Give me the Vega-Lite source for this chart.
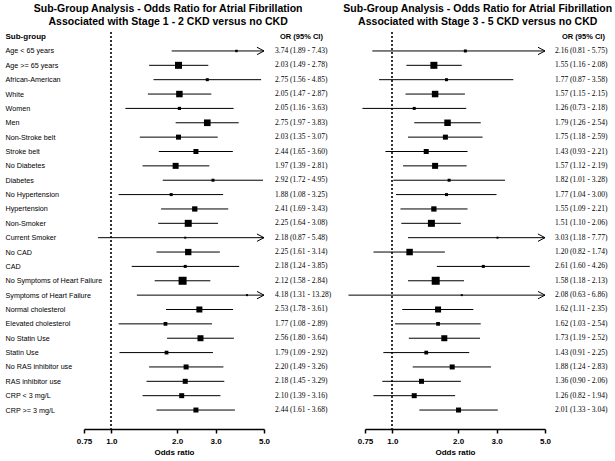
{
  "$schema": "https://vega.github.io/schema/vega-lite/v6.json",
  "padding": {"left": 5, "right": 5, "top": 4, "bottom": 3},
  "bounds": "flush",
  "spacing": 101,
  "config": {
    "font": "Liberation Sans",
    "view": {"stroke": null},
    "mark": {"color": "black"},
    "title": {"fontSize": 10.5, "fontWeight": "bold", "lineHeight": 13, "offset": 4, "anchor": "middle", "frame": "bounds", "color": "black"}
  },
  "datasets": {
    "s12": [
      {"g": "Age < 65 years", "or": 3.74, "lo": 1.89, "hi": 7.43, "w": 6, "t": "3.74 (1.89 -  7.43)"},
      {"g": "Age >= 65 years", "or": 2.03, "lo": 1.49, "hi": 2.78, "w": 49, "t": "2.03 (1.49 -  2.78)"},
      {"g": "African-American", "or": 2.75, "lo": 1.56, "hi": 4.85, "w": 9, "t": "2.75 (1.56 -  4.85)"},
      {"g": "White", "or": 2.05, "lo": 1.47, "hi": 2.87, "w": 42, "t": "2.05 (1.47 -  2.87)"},
      {"g": "Women", "or": 2.05, "lo": 1.16, "hi": 3.63, "w": 10, "t": "2.05 (1.16 -  3.63)"},
      {"g": "Men", "or": 2.75, "lo": 1.97, "hi": 3.83, "w": 44, "t": "2.75 (1.97 -  3.83)"},
      {"g": "Non-Stroke belt", "or": 2.03, "lo": 1.35, "hi": 3.07, "w": 25, "t": "2.03 (1.35 -  3.07)"},
      {"g": "Stroke belt", "or": 2.44, "lo": 1.65, "hi": 3.60, "w": 25, "t": "2.44 (1.65 -  3.60)"},
      {"g": "No Diabetes", "or": 1.97, "lo": 1.39, "hi": 2.81, "w": 36, "t": "1.97 (1.39 -  2.81)"},
      {"g": "Diabetes", "or": 2.92, "lo": 1.72, "hi": 4.95, "w": 9, "t": "2.92 (1.72 -  4.95)"},
      {"g": "No Hypertension", "or": 1.88, "lo": 1.08, "hi": 3.25, "w": 9, "t": "1.88 (1.08 -  3.25)"},
      {"g": "Hypertension", "or": 2.41, "lo": 1.69, "hi": 3.43, "w": 28, "t": "2.41 (1.69 -  3.43)"},
      {"g": "Non-Smoker", "or": 2.25, "lo": 1.64, "hi": 3.08, "w": 49, "t": "2.25 (1.64 -  3.08)"},
      {"g": "Current Smoker", "or": 2.18, "lo": 0.87, "hi": 5.48, "w": 4, "t": "2.18 (0.87 -  5.48)"},
      {"g": "No CAD", "or": 2.25, "lo": 1.61, "hi": 3.14, "w": 40, "t": "2.25 (1.61 -  3.14)"},
      {"g": "CAD", "or": 2.18, "lo": 1.24, "hi": 3.85, "w": 9, "t": "2.18 (1.24 -  3.85)"},
      {"g": "No Symptoms of Heart Failure", "or": 2.12, "lo": 1.58, "hi": 2.84, "w": 64, "t": "2.12 (1.58 -  2.84)"},
      {"g": "Symptoms of Heart Failure", "or": 4.18, "lo": 1.31, "hi": 13.28, "w": 4, "t": "4.18 (1.31 - 13.28)"},
      {"g": "Normal cholesterol", "or": 2.53, "lo": 1.78, "hi": 3.61, "w": 36, "t": "2.53 (1.78 -  3.61)"},
      {"g": "Elevated cholesterol", "or": 1.77, "lo": 1.08, "hi": 2.89, "w": 14, "t": "1.77 (1.08 -  2.89)"},
      {"g": "No Statin Use", "or": 2.56, "lo": 1.80, "hi": 3.64, "w": 36, "t": "2.56 (1.80 -  3.64)"},
      {"g": "Statin Use", "or": 1.79, "lo": 1.09, "hi": 2.92, "w": 14, "t": "1.79 (1.09 -  2.92)"},
      {"g": "No RAS inhibitor use", "or": 2.20, "lo": 1.49, "hi": 3.26, "w": 25, "t": "2.20 (1.49 -  3.26)"},
      {"g": "RAS inhibitor use", "or": 2.18, "lo": 1.45, "hi": 3.29, "w": 25, "t": "2.18 (1.45 -  3.29)"},
      {"g": "CRP < 3 mg/L", "or": 2.10, "lo": 1.39, "hi": 3.16, "w": 25, "t": "2.10 (1.39 -  3.16)"},
      {"g": "CRP >= 3 mg/L", "or": 2.44, "lo": 1.61, "hi": 3.68, "w": 25, "t": "2.44 (1.61 -  3.68)"}
    ],
    "s35": [
      {"g": "Age < 65 years", "or": 2.16, "lo": 0.81, "hi": 5.75, "w": 9, "t": "2.16 (0.81 - 5.75)"},
      {"g": "Age >= 65 years", "or": 1.55, "lo": 1.16, "hi": 2.08, "w": 49, "t": "1.55 (1.16 - 2.08)"},
      {"g": "African-American", "or": 1.77, "lo": 0.87, "hi": 3.58, "w": 9, "t": "1.77 (0.87 - 3.58)"},
      {"g": "White", "or": 1.57, "lo": 1.15, "hi": 2.15, "w": 42, "t": "1.57 (1.15 - 2.15)"},
      {"g": "Women", "or": 1.26, "lo": 0.73, "hi": 2.18, "w": 9, "t": "1.26 (0.73 - 2.18)"},
      {"g": "Men", "or": 1.79, "lo": 1.26, "hi": 2.54, "w": 42, "t": "1.79 (1.26 - 2.54)"},
      {"g": "Non-Stroke belt", "or": 1.75, "lo": 1.18, "hi": 2.59, "w": 25, "t": "1.75 (1.18 - 2.59)"},
      {"g": "Stroke belt", "or": 1.43, "lo": 0.93, "hi": 2.21, "w": 25, "t": "1.43 (0.93 - 2.21)"},
      {"g": "No Diabetes", "or": 1.57, "lo": 1.12, "hi": 2.19, "w": 36, "t": "1.57 (1.12 - 2.19)"},
      {"g": "Diabetes", "or": 1.82, "lo": 1.01, "hi": 3.28, "w": 9, "t": "1.82 (1.01 - 3.28)"},
      {"g": "No Hypertension", "or": 1.77, "lo": 1.04, "hi": 3.00, "w": 9, "t": "1.77 (1.04 - 3.00)"},
      {"g": "Hypertension", "or": 1.55, "lo": 1.09, "hi": 2.21, "w": 28, "t": "1.55 (1.09 - 2.21)"},
      {"g": "Non-Smoker", "or": 1.51, "lo": 1.10, "hi": 2.06, "w": 49, "t": "1.51 (1.10 - 2.06)"},
      {"g": "Current Smoker", "or": 3.03, "lo": 1.18, "hi": 7.77, "w": 4, "t": "3.03 (1.18 - 7.77)"},
      {"g": "No CAD", "or": 1.20, "lo": 0.82, "hi": 1.74, "w": 42, "t": "1.20 (0.82 - 1.74)"},
      {"g": "CAD", "or": 2.61, "lo": 1.60, "hi": 4.26, "w": 9, "t": "2.61 (1.60 - 4.26)"},
      {"g": "No Symptoms of Heart Failure", "or": 1.58, "lo": 1.18, "hi": 2.13, "w": 64, "t": "1.58 (1.18 - 2.13)"},
      {"g": "Symptoms of Heart Failure", "or": 2.08, "lo": 0.63, "hi": 6.86, "w": 4, "t": "2.08 (0.63 - 6.86)"},
      {"g": "Normal cholesterol", "or": 1.62, "lo": 1.11, "hi": 2.35, "w": 36, "t": "1.62 (1.11 - 2.35)"},
      {"g": "Elevated cholesterol", "or": 1.62, "lo": 1.03, "hi": 2.54, "w": 14, "t": "1.62 (1.03 - 2.54)"},
      {"g": "No Statin Use", "or": 1.73, "lo": 1.19, "hi": 2.52, "w": 36, "t": "1.73 (1.19 - 2.52)"},
      {"g": "Statin Use", "or": 1.43, "lo": 0.91, "hi": 2.25, "w": 14, "t": "1.43 (0.91 - 2.25)"},
      {"g": "No RAS inhibitor use", "or": 1.88, "lo": 1.24, "hi": 2.83, "w": 25, "t": "1.88 (1.24 - 2.83)"},
      {"g": "RAS inhibitor use", "or": 1.36, "lo": 0.90, "hi": 2.06, "w": 25, "t": "1.36 (0.90 - 2.06)"},
      {"g": "CRP < 3 mg/L", "or": 1.26, "lo": 0.82, "hi": 1.94, "w": 25, "t": "1.26 (0.82 - 1.94)"},
      {"g": "CRP >= 3 mg/L", "or": 2.01, "lo": 1.33, "hi": 3.04, "w": 25, "t": "2.01 (1.33 - 3.04)"}
    ]
  },
  "hconcat": [
    {
      "width": 180,
      "height": 397,
      "title": {"text": ["Sub-Group Analysis - Odds Ratio for Atrial Fibrillation", "Associated with Stage 1 - 2 CKD versus no CKD"]},
      "data": {"name": "s12"},
      "layer": [
        {
          "mark": {"type": "rule", "strokeDash": [2, 2], "color": "#333333", "strokeWidth": 1},
          "encoding": {
            "x": {"datum": 1, "type": "quantitative", "scale": {"type": "log", "domain": [0.75, 5], "nice": false},
              "axis": {"values": [0.75, 1, 2, 3, 5], "labelExpr": "datum.value == 0.75 ? '0.75' : format(datum.value, '.1f')", "title": "Odds ratio", "grid": false, "labelFontSize": 8, "labelFontWeight": "bold", "labelColor": "black", "titleFontSize": 8, "titleFontWeight": "bold", "titleColor": "black", "titlePadding": 3, "labelPadding": 4, "tickSize": 4, "tickWidth": 1.5, "domainWidth": 1.5, "tickColor": "black", "domainColor": "black", "labelFlush": false, "labelOverlap": false}}
          }
        },
        {
          "mark": {"type": "rule", "color": "black", "strokeWidth": 1},
          "encoding": {
            "y": {"field": "g", "type": "nominal", "scale": {"type": "point", "padding": 0.32, "domain": ["Sub-group","Age < 65 years","Age >= 65 years","African-American","White","Women","Men","Non-Stroke belt","Stroke belt","No Diabetes","Diabetes","No Hypertension","Hypertension","Non-Smoker","Current Smoker","No CAD","CAD","No Symptoms of Heart Failure","Symptoms of Heart Failure","Normal cholesterol","Elevated cholesterol","No Statin Use","Statin Use","No RAS inhibitor use","RAS inhibitor use","CRP < 3 mg/L","CRP >= 3 mg/L"," "]},
              "axis": {"title": null, "domain": false, "ticks": false, "tickSize": 0, "labelAlign": "left", "labelPadding": 79, "labelColor": "black", "labelFontSize": {"condition": {"test": "datum.value === 'Sub-group'", "value": 8}, "value": 7.2}, "labelFontWeight": {"condition": {"test": "datum.value === 'Sub-group'", "value": "bold"}, "value": "normal"}}},
            "x": {"field": "lo", "type": "quantitative"},
            "x2": {"field": "or"}
          }
        },
        {
          "mark": {"type": "rule", "color": "black", "strokeWidth": 1, "clip": true},
          "encoding": {
            "y": {"field": "g", "type": "nominal"},
            "x": {"field": "or", "type": "quantitative"},
            "x2": {"field": "hi"}
          }
        },
        {
          "mark": {"type": "square", "filled": true, "opacity": 1, "color": "black"},
          "encoding": {
            "y": {"field": "g", "type": "nominal"},
            "x": {"field": "or", "type": "quantitative"},
            "size": {"field": "w", "type": "quantitative", "legend": null, "scale": {"domain": [0, 64], "range": [0, 64]}}
          }
        },
        {
          "transform": [{"filter": "datum.hi > 5"}],
          "mark": {"type": "point", "shape": "M-1.9,-1L0,0L-1.9,1", "filled": false, "stroke": "black", "strokeWidth": 1, "size": 55, "opacity": 1},
          "encoding": {
            "y": {"field": "g", "type": "nominal"},
            "x": {"datum": 5, "type": "quantitative"}
          }
        },
        {
          "mark": {"type": "text", "align": "left", "dx": 11, "font": "Liberation Sans Narrow", "fontSize": 7.5, "color": "black"},
          "encoding": {
            "y": {"field": "g", "type": "nominal"},
            "x": {"datum": 5, "type": "quantitative"},
            "text": {"field": "t"}
          }
        },
        {
          "data": {"values": [{"g": "Sub-group", "t": "OR  (95% CI)"}]},
          "mark": {"type": "text", "align": "left", "dx": 16, "fontSize": 7.5, "fontWeight": "bold", "color": "black"},
          "encoding": {
            "y": {"field": "g", "type": "nominal"},
            "x": {"datum": 5, "type": "quantitative"},
            "text": {"field": "t"}
          }
        }
      ]
    },
    {
      "width": 180,
      "height": 397,
      "title": {"text": ["Sub-Group Analysis - Odds Ratio for Atrial Fibrillation", "Associated with Stage 3 - 5 CKD versus no CKD"]},
      "data": {"name": "s35"},
      "layer": [
        {
          "mark": {"type": "rule", "strokeDash": [2, 2], "color": "#333333", "strokeWidth": 1},
          "encoding": {
            "x": {"datum": 1, "type": "quantitative", "scale": {"type": "log", "domain": [0.75, 5], "nice": false},
              "axis": {"values": [0.75, 1, 2, 3, 5], "labelExpr": "datum.value == 0.75 ? '0.75' : format(datum.value, '.1f')", "title": "Odds ratio", "grid": false, "labelFontSize": 8, "labelFontWeight": "bold", "labelColor": "black", "titleFontSize": 8, "titleFontWeight": "bold", "titleColor": "black", "titlePadding": 3, "labelPadding": 4, "tickSize": 4, "tickWidth": 1.5, "domainWidth": 1.5, "tickColor": "black", "domainColor": "black", "labelFlush": false, "labelOverlap": false}}
          }
        },
        {
          "mark": {"type": "rule", "color": "black", "strokeWidth": 1},
          "encoding": {
            "y": {"field": "g", "type": "nominal", "axis": null, "scale": {"type": "point", "padding": 0.32, "domain": ["Sub-group","Age < 65 years","Age >= 65 years","African-American","White","Women","Men","Non-Stroke belt","Stroke belt","No Diabetes","Diabetes","No Hypertension","Hypertension","Non-Smoker","Current Smoker","No CAD","CAD","No Symptoms of Heart Failure","Symptoms of Heart Failure","Normal cholesterol","Elevated cholesterol","No Statin Use","Statin Use","No RAS inhibitor use","RAS inhibitor use","CRP < 3 mg/L","CRP >= 3 mg/L"," "]}},
            "x": {"field": "lo", "type": "quantitative"},
            "x2": {"field": "or"}
          }
        },
        {
          "mark": {"type": "rule", "color": "black", "strokeWidth": 1, "clip": true},
          "encoding": {
            "y": {"field": "g", "type": "nominal"},
            "x": {"field": "or", "type": "quantitative"},
            "x2": {"field": "hi"}
          }
        },
        {
          "mark": {"type": "square", "filled": true, "opacity": 1, "color": "black"},
          "encoding": {
            "y": {"field": "g", "type": "nominal"},
            "x": {"field": "or", "type": "quantitative"},
            "size": {"field": "w", "type": "quantitative", "legend": null, "scale": {"domain": [0, 64], "range": [0, 64]}}
          }
        },
        {
          "transform": [{"filter": "datum.hi > 5"}],
          "mark": {"type": "point", "shape": "M-1.9,-1L0,0L-1.9,1", "filled": false, "stroke": "black", "strokeWidth": 1, "size": 55, "opacity": 1},
          "encoding": {
            "y": {"field": "g", "type": "nominal"},
            "x": {"datum": 5, "type": "quantitative"}
          }
        },
        {
          "mark": {"type": "text", "align": "left", "dx": 10, "font": "Liberation Sans Narrow", "fontSize": 7.5, "color": "black"},
          "encoding": {
            "y": {"field": "g", "type": "nominal"},
            "x": {"datum": 5, "type": "quantitative"},
            "text": {"field": "t"}
          }
        },
        {
          "data": {"values": [{"g": "Sub-group", "t": "OR  (95% CI)"}]},
          "mark": {"type": "text", "align": "left", "dx": 17, "fontSize": 7.5, "fontWeight": "bold", "color": "black"},
          "encoding": {
            "y": {"field": "g", "type": "nominal"},
            "x": {"datum": 5, "type": "quantitative"},
            "text": {"field": "t"}
          }
        }
      ]
    }
  ]
}
